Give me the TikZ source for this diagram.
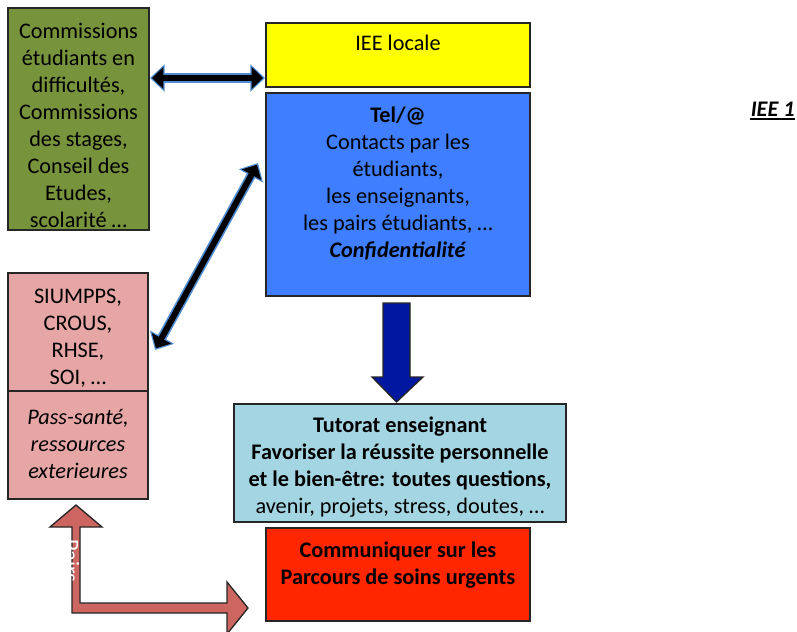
\documentclass[tikz,border=0pt]{standalone}
\usepackage{fontspec}
\setmainfont{Carlito}
\usetikzlibrary{positioning,calc,arrows.meta}
\definecolor{iiegreen}{RGB}{119,147,60}
\definecolor{iieyellow}{RGB}{255,255,0}
\definecolor{iieblue}{RGB}{62,126,255}
\definecolor{iiepink}{RGB}{229,166,165}
\definecolor{iielightblue}{RGB}{164,213,226}
\definecolor{iiered}{RGB}{255,38,0}
\definecolor{iiedarkblue}{RGB}{0,24,160}
\definecolor{iiearrowpink}{RGB}{205,102,96}
\definecolor{glowblue}{RGB}{80,140,210}

\begin{document}
\begin{tikzpicture}[x=0.75pt,y=-0.75pt,
  box/.style={draw=black!85, line width=1pt, outer sep=0pt, inner sep=0pt},
  boxtext/.style={inner sep=0pt, align=center, font=\fontsize{16.7}{20.25}\selectfont},
  toptext/.style={boxtext, anchor=north},
  glow/.style={line width=7pt, draw=glowblue, {Triangle[length=11pt,width=20pt]}-{Triangle[length=11pt,width=20pt]}},
  core/.style={line width=4.5pt, draw=black, shorten <=1.5pt, shorten >=1.5pt, {Triangle[length=8.5pt,width=16pt]}-{Triangle[length=8.5pt,width=16pt]}},
  blockarrow/.style={draw=black!85, line width=1pt, line join=miter}]
\useasboundingbox (0,0) rectangle (797,632);

% boxes
\node[box, fill=iiegreen, minimum width=105.75pt, minimum height=166.5pt] (commissions) at (78.5,119) {};
\node[boxtext] (commissionstext) at ($(commissions.center)+(0,6)$)
  {Commissions\\étudiants en\\difficultés,\\Commissions\\des stages,\\Conseil des\\Etudes,\\scolarité …};
\node[box, fill=iieyellow, minimum width=198pt, minimum height=48pt] (locale) at (398,55) {};
\node[toptext] (localetext) at ($(locale.north)+(0,12)$) {IEE locale};
\node[box, fill=iieblue, minimum width=198pt, minimum height=152.25pt, below=4.5pt of locale] (tel) {};
\node[toptext] (teltext) at ($(tel.north)+(0,13.5)$)
  {\textbf{Tel/@}\\Contacts par les\\étudiants,\\les enseignants,\\les pairs étudiants, …\\\textbf{\textit{Confidentialité}}};
\node[box, fill=iiepink, minimum width=105pt, minimum height=88.5pt] (siumpps) at (78,332) {};
\node[boxtext] (siumppstext) at ($(siumpps.center)+(0,6.5)$) {SIUMPPS,\\CROUS,\\RHSE,\\SOI, …};
\node[box, fill=iiepink, minimum width=105pt, minimum height=81pt, below=0pt of siumpps] (pass) {};
\node[boxtext] (passtext) at ($(pass.center)+(0,-1)$)
  {\textit{Pass-santé,}\\\textit{ressources}\\\textit{exterieures}};
\node[box, fill=iielightblue, minimum width=249pt, minimum height=88.5pt] (tutorat) at (400,463) {};
\node[boxtext] (tutorattext) at ($(tutorat.center)+(0,4.5)$)
  {\textbf{Tutorat enseignant}\\\textbf{Favoriser la réussite personnelle}\\\textbf{et le bien-être: toutes questions,}\\avenir, projets, stress, doutes, …};
\node[box, fill=iiered, minimum width=198pt, minimum height=69.75pt] (urgent) at (398,574.5) {};
\node[toptext] (urgenttext) at ($(urgent.north)+(0,14)$)
  {\textbf{Communiquer sur les}\\\textbf{Parcours de soins urgents}};

\node[boxtext, anchor=base east, font=\fontsize{16.7}{20.25}\selectfont\bfseries\itshape] (iee) at (795,116) {IEE 1};
\draw[line width=1.3pt] ($(iee.base west)+(0,3)$) -- ($(iee.base east)+(0,3)$);

% double arrows
\coordinate (h1) at ($(locale.west)+(-1,23)$);
\coordinate (h0) at ($(commissions.east |- h1)+(1,0)$);
\coordinate (d0) at ($(siumpps.east)+(7,18)$);
\coordinate (d1) at ($(tel.west)+(-8,-31.5)$);
\draw[glow] (h0) -- (h1);
\draw[core] (h0) -- (h1);
\draw[glow] (d0) -- (d1);
\draw[core] (d0) -- (d1);

% block arrows
\draw[blockarrow, fill=iiedarkblue] ($(tel.south)+(-15,7)$) -- ++(27,0) -- ++(0,74) -- ++(13,0)
  -- ++(-26.5,25) -- ++(-24.5,-25) -- ++(11,0) -- cycle;
\draw[blockarrow, fill=iiearrowpink] ($(pass.south)+(-2,6)$) -- ++(26,22) -- ++(-22,0) -- ++(0,76)
  -- ++(147,0) -- ++(0,-21) -- ++(21,26) -- ++(-21,26) -- ++(0,-21) -- ++(-155,0) -- ++(0,-86)
  -- ++(-22,0) -- cycle;
\node[boxtext, rotate=-90, text=white] (pairs) at ($(pass.south)+(-6.5,62)$) {Pairs};
\end{tikzpicture}
\end{document}
